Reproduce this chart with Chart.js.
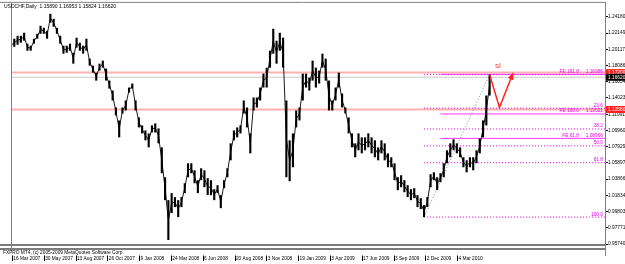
<!DOCTYPE html>
<html lang="en">
<head>
<meta charset="UTF-8">
<title>USDCHF Daily</title>
<script src="https://cdn.jsdelivr.net/npm/chart.js@4.4.1/dist/chart.umd.min.js"></script>
<style>
  body { margin: 0; background: #fff; }
  canvas { display: block; }
</style>
</head>
<body>
<canvas id="chart" width="625" height="264"></canvas>
<script>
// price bars, one sample every ~3 px of the original (high / low)
const highs = [
  1.2094, 1.2144, 1.2181, 1.2181, 1.2219, 1.2082, 1.2057, 1.2144, 1.2206, 1.2306,
  1.2281, 1.2244, 1.2456, 1.2394, 1.2281, 1.2181, 1.2057, 1.2057, 1.2082, 1.1969,
  1.2157, 1.2094, 1.2057, 1.2144, 1.1895, 1.1807, 1.1720, 1.1832, 1.1870, 1.1770,
  1.1620, 1.1495, 1.1283, 1.1121, 1.1283, 1.1371, 1.1533, 1.1583, 1.1371, 1.1159,
  1.1059, 1.0996, 1.0959, 1.1059, 1.1084, 1.1021, 1.0784, 1.0410, 1.0123, 1.0211,
  1.0161, 1.0123, 1.0161, 1.0335, 1.0585, 1.0585, 1.0497, 1.0373, 1.0522, 1.0497,
  1.0398, 1.0373, 1.0260, 1.0310, 1.0186, 1.0373, 1.0522, 1.0834, 1.0996, 1.1034,
  1.1059, 1.1371, 1.1283, 1.0959, 1.1408, 1.1408, 1.1533, 1.1707, 1.1782, 1.1994,
  1.2269, 1.2119, 1.2219, 1.2157, 1.1371, 1.0872, 1.0959, 1.1246, 1.1283, 1.1707,
  1.1707, 1.1657, 1.1870, 1.1782, 1.1745, 1.1957, 1.1895, 1.1620, 1.1371, 1.1533,
  1.1720, 1.1458, 1.1283, 1.1159, 1.0959, 1.0834, 1.0959, 1.0909, 1.0909, 1.0959,
  1.0909, 1.0872, 1.0784, 1.0872, 1.0834, 1.0709, 1.0660, 1.0585, 1.0410, 1.0435,
  1.0373, 1.0310, 1.0260, 1.0273, 1.0186, 1.0148, 1.0061, 1.0161, 1.0448, 1.0472,
  1.0410, 1.0460, 1.0585, 1.0747, 1.0834, 1.0884, 1.0834, 1.0784, 1.0660, 1.0622,
  1.0660, 1.0660, 1.0747, 1.0897, 1.1121, 1.1433, 1.1695
];
const lows = [
  1.2032, 1.2044, 1.2069, 1.2094, 1.2119, 1.1994, 1.1994, 1.2082, 1.2144, 1.2206,
  1.2206, 1.2144, 1.2344, 1.2294, 1.2206, 1.2082, 1.1957, 1.1969, 1.1994, 1.1832,
  1.2032, 1.1994, 1.1957, 1.1994, 1.1807, 1.1720, 1.1620, 1.1745, 1.1782, 1.1620,
  1.1520, 1.1371, 1.1184, 1.0909, 1.1208, 1.1246, 1.1470, 1.1520, 1.1246, 1.1034,
  1.0959, 1.0872, 1.0784, 1.0971, 1.0971, 1.0834, 1.0460, 1.0123, 0.9624, 0.9961,
  1.0036, 0.9911, 1.0036, 1.0211, 1.0410, 1.0460, 1.0335, 1.0211, 1.0373, 1.0285,
  1.0186, 1.0186, 1.0123, 1.0211, 1.0023, 1.0273, 1.0410, 1.0622, 1.0872, 1.0909,
  1.0959, 1.1208, 1.1034, 1.0709, 1.1246, 1.1283, 1.1371, 1.1533, 1.1533, 1.1782,
  1.1957, 1.1832, 1.1994, 1.1782, 1.0410, 1.0360, 1.0535, 1.1034, 1.1121, 1.1371,
  1.1533, 1.1495, 1.1620, 1.1533, 1.1583, 1.1782, 1.1620, 1.1246, 1.1246, 1.1371,
  1.1533, 1.1283, 1.1208, 1.0959, 1.0784, 1.0660, 1.0747, 1.0709, 1.0747, 1.0784,
  1.0709, 1.0660, 1.0622, 1.0709, 1.0622, 1.0535, 1.0535, 1.0373, 1.0248, 1.0285,
  1.0223, 1.0161, 1.0123, 1.0148, 1.0036, 1.0011, 0.9911, 1.0036, 1.0285, 1.0373,
  1.0248, 1.0348, 1.0410, 1.0585, 1.0660, 1.0747, 1.0709, 1.0660, 1.0535, 1.0472,
  1.0535, 1.0497, 1.0585, 1.0709, 1.0909, 1.1059, 1.1433
];

// price scale labels (right side)
const yTicks = [1.24180, 1.22149, 1.20117, 1.18086, 1.16054, 1.14023, 1.11991, 1.09960,
  1.07929, 1.05897, 1.03866, 1.01834, 0.99803, 0.97771, 0.95740];

// time scale labels, placed on the sample index
const dateTickPos = [0.3, 10, 19.7, 29.4, 39.1, 48.8, 58.5, 68.2, 77.9, 87.6, 97.3, 107, 116.7, 126.4, 136.1];
const dateLabels = ['16 Mar 2007', '30 May 2007', '13 Aug 2007', '26 Oct 2007', '9 Jan 2008',
  '24 Mar 2008', '6 Jun 2008', '20 Aug 2008', '3 Nov 2008', '19 Jan 2009', '3 Apr 2009',
  '17 Jun 2009', '3 Sep 2009', '2 Dec 2009', '4 Mar 2010'];

const xMin = 0.3, xMax = 181.2;

// horizontal levels
const redLevels = [1.1720, 1.1258];
const redLabels = ['1.17200', '1.12580'];
const bidPrice = 1.1662;
const bidLabel = '1.16620';

// fibonacci retracement (low -> last high)
const fibStart = 126, fibEnd = 146;
const fibLow = 0.9911, fibHigh = 1.1695;
const fibLevels = [1.1695, 1.1274, 1.1014, 1.0803, 1.0592, 0.9911];
const fibNames = ['', '23.6', '38.2', '50.0', '61.8', '100.0'];

// fibonacci expansion
const feStart = 131;
const feLevels = [1.16986, 1.12021, 1.08966];
const feNames = ['FE 161.8', 'FE 100.0', 'FE 61.8'];

// projected move (red arrow)
const zigX = [146, 149, 153];
const zigY = [1.1695, 1.1283, 1.1700];

const FONT = 'Liberation Sans';
Chart.defaults.font.family = FONT;

function hline(v, color, width, dash, from, order) {
  return {
    type: 'line',
    data: [{ x: from, y: v }, { x: xMax, y: v }],
    borderColor: color,
    borderWidth: width,
    borderDash: dash,
    pointRadius: 0,
    order: order
  };
}

const datasets = [];

// price bars
datasets.push({
  type: 'bar',
  data: highs.map((h, i) => ({ x: i, y: [lows[i], h] })),
  backgroundColor: '#000',
  borderWidth: 0,
  barPercentage: 0.65,
  categoryPercentage: 1,
  order: 2
});
datasets.push({
  type: 'line',
  data: highs.map((h, i) => ({ x: i, y: (h + lows[i]) / 2 })),
  borderColor: '#1a1a1a',
  borderWidth: 1,
  pointRadius: 0,
  order: 2
});

redLevels.forEach(v => datasets.push(hline(v, '#ffb0b0', 2, [], xMin, 6)));
datasets.push(hline(bidPrice, '#c8c8c8', 1, [], xMin, 6));
fibLevels.forEach(v => datasets.push(hline(v, '#ee00ee', 1, [1, 2], fibStart, 4)));
feLevels.forEach(v => datasets.push(hline(v, '#ff33ff', 1, [], feStart, 4)));

// dotted trend line of the retracement
datasets.push({
  type: 'line',
  data: [{ x: fibStart, y: fibLow }, { x: fibEnd, y: fibHigh }],
  borderColor: '#7d8cc4',
  borderWidth: 1,
  borderDash: [1, 2],
  pointRadius: 0,
  order: 3
});

// red projection
datasets.push({
  type: 'line',
  data: zigX.map((x, i) => ({ x: x, y: zigY[i] })),
  borderColor: '#ff2020',
  borderWidth: 1.5,
  pointRadius: 0,
  order: 0
});
const zigIndex = datasets.length - 1;

const decor = {
  id: 'decor',
  afterDraw(chart) {
    const ctx = chart.ctx, xs = chart.scales.x, ys = chart.scales.y, a = chart.chartArea;
    ctx.save();

    // frame
    ctx.strokeStyle = '#808080';
    ctx.lineWidth = 1;
    ctx.beginPath();
    ctx.moveTo(0, a.top - 0.5); ctx.lineTo(a.right, a.top - 0.5);
    ctx.moveTo(a.left - 0.5, a.top); ctx.lineTo(a.left - 0.5, 251);
    ctx.moveTo(a.right + 0.5, a.bottom); ctx.lineTo(a.right + 0.5, 256);
    ctx.stroke();

    // indicator separator
    ctx.fillStyle = '#7c7c7c';
    ctx.fillRect(0, 244, a.right, 2);
    ctx.fillRect(0, 248, a.right, 2);

    ctx.font = '4.8px ' + FONT;
    ctx.fillStyle = '#000';
    ctx.textBaseline = 'top';
    ctx.textAlign = 'left';
    ctx.fillText('FXPRO MT4, (c) 2005-2009 MetaQuotes Software Corp.', 3, 250.5);

    // title
    ctx.font = '5px ' + FONT;
    ctx.fillText('USDCHF,Daily  1.15890 1.16953 1.15824 1.16620', 4, 4);

    // date tick marks
    ctx.strokeStyle = '#000';
    ctx.beginPath();
    dateTickPos.forEach(p => {
      const px = Math.round(xs.getPixelForValue(p)) + 0.5;
      ctx.moveTo(px, 255.5); ctx.lineTo(px, 261);
    });
    ctx.stroke();

    // fibonacci labels
    ctx.font = '4.8px ' + FONT;
    ctx.fillStyle = '#ee00ee';
    ctx.textAlign = 'right';
    ctx.textBaseline = 'bottom';
    fibLevels.forEach((v, i) => {
      if (!fibNames[i]) return;
      ctx.fillText(fibNames[i], a.right - 2, ys.getPixelForValue(v) - 0.5);
    });
    feLevels.forEach((v, i) => {
      const py = ys.getPixelForValue(v) - 0.5;
      ctx.fillText(feNames[i], a.right - 26, py);
      ctx.fillText(v.toFixed(5), a.right - 2, py);
    });

    // price boxes on the axis
    const boxes = [[redLevels[0], '#ff2020', redLabels[0]], [bidPrice, '#000', bidLabel], [redLevels[1], '#ff2020', redLabels[1]]];
    ctx.textAlign = 'left';
    ctx.textBaseline = 'middle';
    boxes.forEach(b => {
      const py = ys.getPixelForValue(b[0]);
      ctx.fillStyle = b[1];
      ctx.fillRect(a.right + 1, py - 3.5, 20, 7);
      ctx.fillStyle = '#fff';
      ctx.fillText(b[2], a.right + 3, py + 0.3);
    });

    // arrow head on the projection
    const pts = chart.getDatasetMeta(zigIndex).data;
    const p1 = pts[pts.length - 2], p2 = pts[pts.length - 1];
    const ang = Math.atan2(p2.y - p1.y, p2.x - p1.x);
    ctx.fillStyle = '#ff2020';
    ctx.beginPath();
    ctx.moveTo(p2.x + Math.cos(ang) * 2, p2.y + Math.sin(ang) * 2);
    ctx.lineTo(p2.x - Math.cos(ang - 0.5) * 6, p2.y - Math.sin(ang - 0.5) * 6);
    ctx.lineTo(p2.x - Math.cos(ang + 0.5) * 6, p2.y - Math.sin(ang + 0.5) * 6);
    ctx.closePath();
    ctx.fill();

    // "sl" mark
    ctx.font = '8px ' + FONT;
    ctx.fillStyle = '#ff4040';
    ctx.textAlign = 'center';
    ctx.fillText('sl', xs.getPixelForValue(148.5), ys.getPixelForValue(1.1800));

    ctx.restore();
  }
};

new Chart(document.getElementById('chart'), {
  type: 'bar',
  data: { datasets: datasets },
  options: {
    responsive: false,
    animation: false,
    devicePixelRatio: 1,
    layout: { padding: { left: 2, top: 2, right: 0, bottom: 0 } },
    plugins: { legend: { display: false }, tooltip: { enabled: false } },
    scales: {
      x: {
        type: 'linear',
        min: xMin,
        max: xMax,
        offset: false,
        grid: { display: false, drawTicks: false },
        border: { display: false },
        afterBuildTicks: s => { s.ticks = dateTickPos.map(v => ({ value: v })); },
        afterFit: s => { s.height = 20; },
        ticks: {
          autoSkip: false,
          maxRotation: 0,
          align: 'start',
          padding: 12,
          color: '#000',
          font: { size: 4.8 },
          callback: (v, i) => ' ' + dateLabels[i]
        }
      },
      y: {
        type: 'linear',
        position: 'right',
        min: 0.9574,
        max: 1.2593,
        grid: { drawOnChartArea: false, drawTicks: true, tickLength: 3, color: '#000' },
        border: { color: '#808080' },
        afterBuildTicks: s => { s.ticks = yTicks.map(v => ({ value: v })); },
        afterFit: s => { s.width = 20; },
        ticks: {
          autoSkip: false,
          padding: 0,
          color: '#000',
          font: { size: 4.8 },
          callback: v => v.toFixed(5)
        }
      }
    }
  },
  plugins: [decor]
});
</script>
</body>
</html>
